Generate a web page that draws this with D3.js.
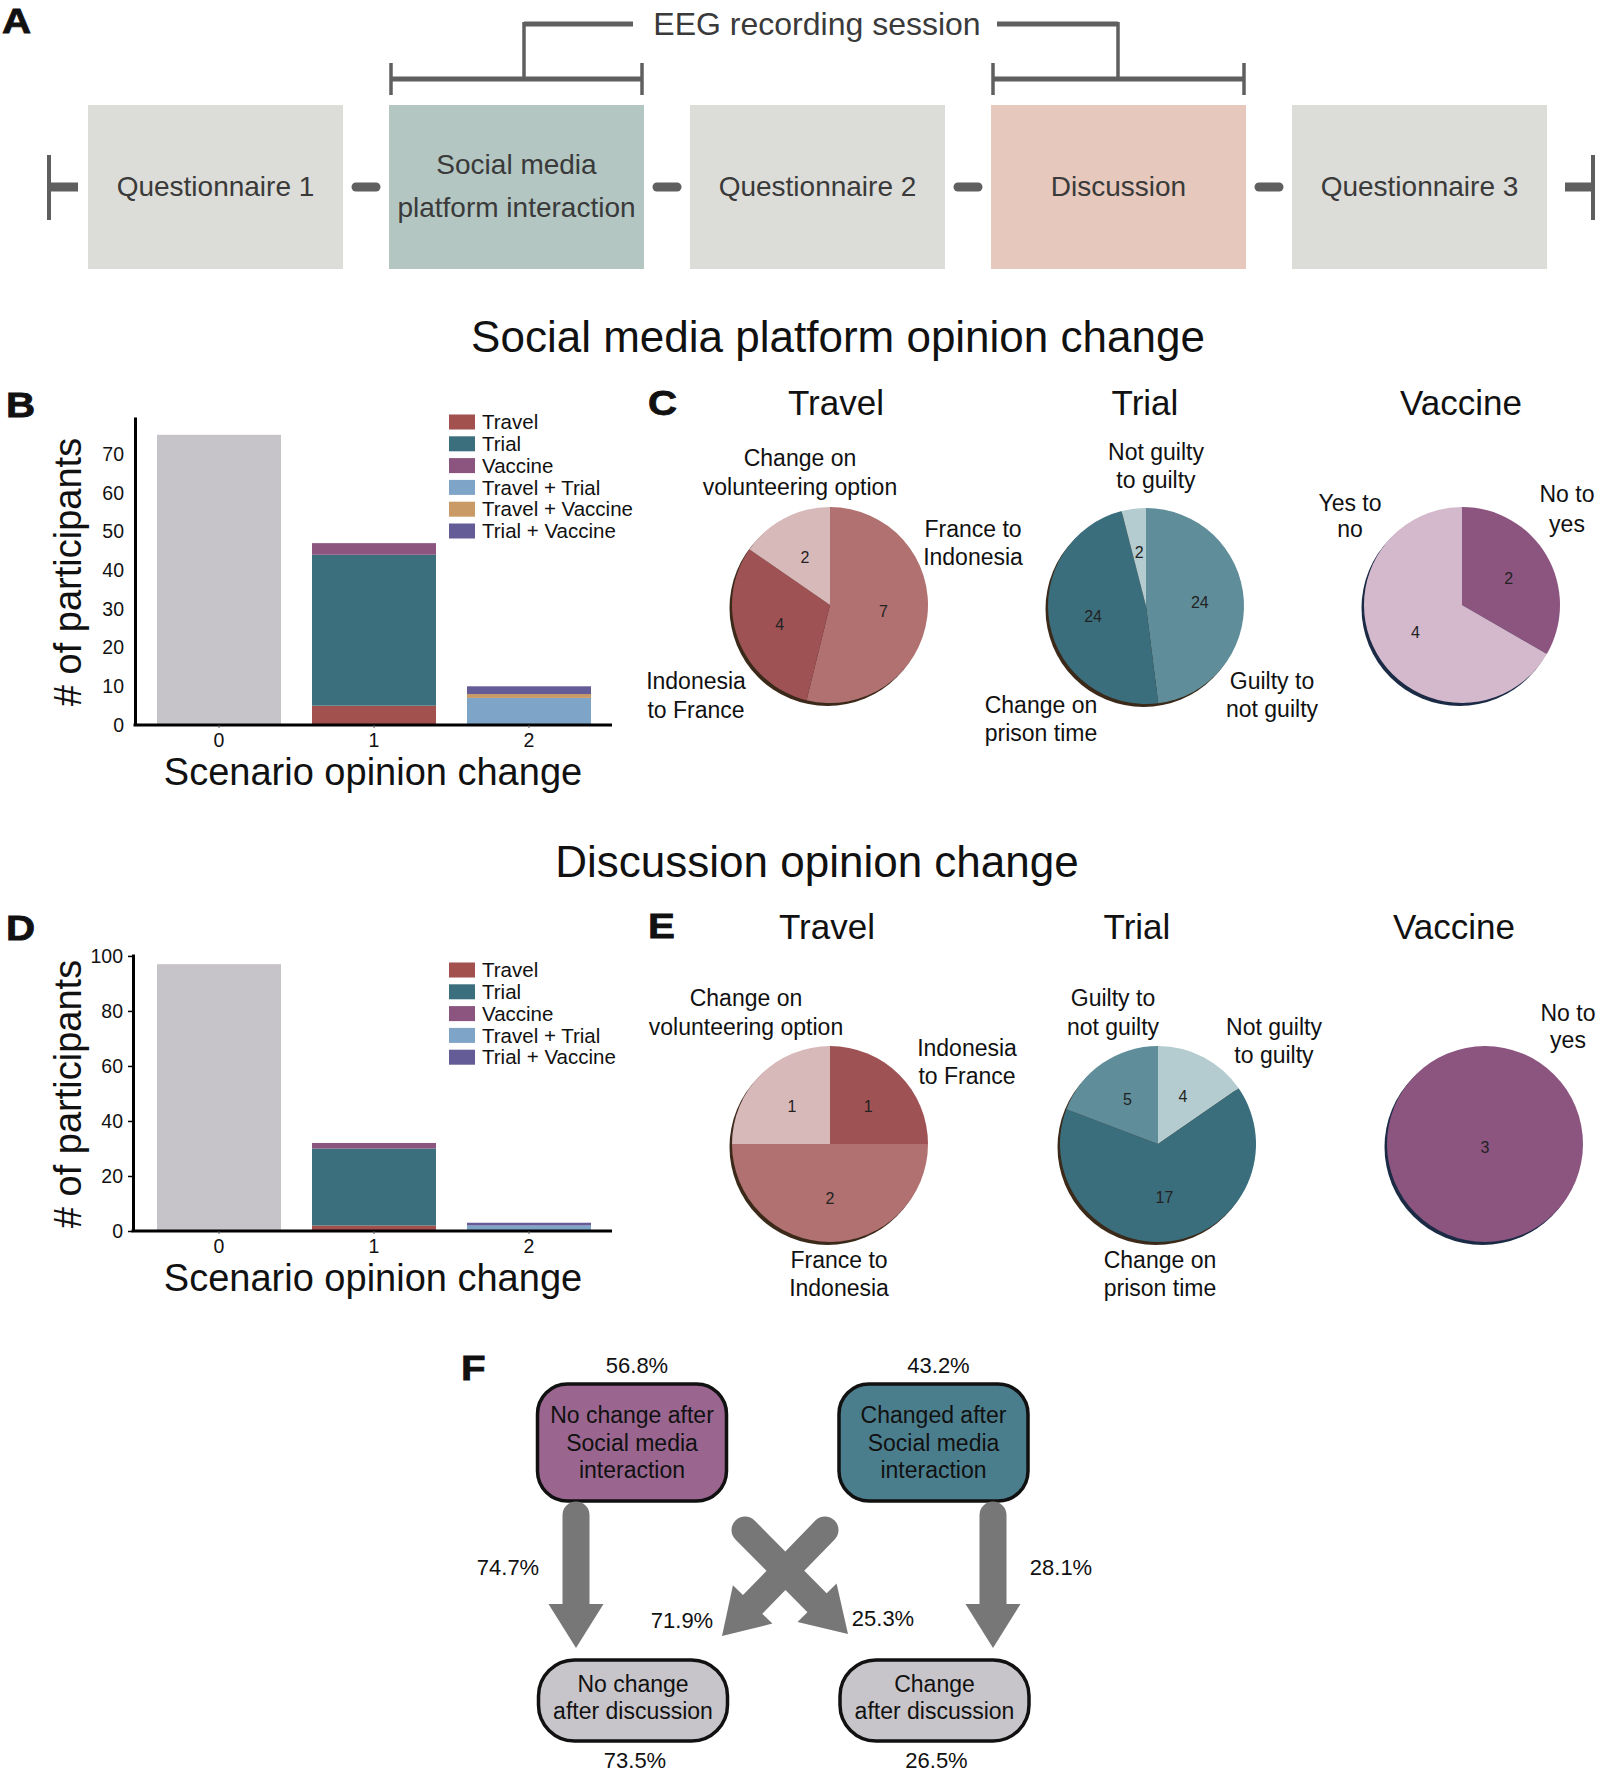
<!DOCTYPE html>
<html><head><meta charset="utf-8">
<script src="https://cdn.jsdelivr.net/npm/d3@7"></script>
<style>body{margin:0;background:#fff}svg{display:block}</style>
</head><body>
<script>
// ---------------- DATA ----------------
const timelineSteps = ["Questionnaire 1", "Social media\nplatform interaction", "Questionnaire 2", "Discussion", "Questionnaire 3"];
const eegLabel = "EEG recording session";
const sectionTitles = ["Social media platform opinion change", "Discussion opinion change"];

const scenarioCategories = ["0", "1", "2"];
const changeTypes = ["Travel", "Trial", "Vaccine", "Travel + Trial", "Travel + Vaccine", "Trial + Vaccine"];

// Panel B (social media) stacked counts per category 0/1/2
const socialNoChange      = [75, 0, 0];
const socialTravel        = [0, 5, 0];
const socialTrial         = [0, 39, 0];
const socialVaccine       = [0, 3, 0];
const socialTravelTrial   = [0, 0, 7];
const socialTravelVaccine = [0, 0, 1];
const socialTrialVaccine  = [0, 0, 2];
const socialTicks = [0, 10, 20, 30, 40, 50, 60, 70];

// Panel D (discussion)
const discNoChange      = [97, 0, 0];
const discTravel        = [0, 2, 0];
const discTrial         = [0, 28, 0];
const discVaccine       = [0, 2, 0];
const discTravelTrial   = [0, 0, 2];
const discTravelVaccine = [0, 0, 0];
const discTrialVaccine  = [0, 0, 1];
const discTicks = [0, 20, 40, 60, 80, 100];

// Panel C pies
const socialTravelLabels  = ["France to\nIndonesia", "Indonesia\nto France", "Change on\nvolunteering option"];
const socialTravelValues  = [7, 4, 2];
const socialTrialLabels   = ["Guilty to\nnot guilty", "Change on\nprison time", "Not guilty\nto guilty"];
const socialTrialValues   = [24, 24, 2];
const socialVaccineLabels = ["No to\nyes", "Yes to\nno"];
const socialVaccineValues = [2, 4];

// Panel E pies
const discTravelLabels  = ["Indonesia\nto France", "France to\nIndonesia", "Change on\nvolunteering option"];
const discTravelValues  = [1, 2, 1];
const discTrialLabels   = ["Not guilty\nto guilty", "Change on\nprison time", "Guilty to\nnot guilty"];
const discTrialValues   = [4, 17, 5];
const discVaccineLabels = ["No to\nyes"];
const discVaccineValues = [3];

const pieTitles = ["Travel", "Trial", "Vaccine"];

// Panel F flow
const socialStateLabels = ["No change after\nSocial media\ninteraction", "Changed after\nSocial media\ninteraction"];
const socialStatePct = [56.8, 43.2];
const discStateLabels = ["No change\nafter discussion", "Change\nafter discussion"];
const discStatePct = [73.5, 26.5];
// transitions: from state, to state, percentage
const transFrom = [0, 0, 1, 1];
const transTo   = [0, 1, 0, 1];
const transPct  = [74.7, 25.3, 71.9, 28.1];

// ---------------- STYLE ----------------
const FONT = '"Liberation Sans", Arial, Helvetica, sans-serif';
const barColors = {
  "No change": "#c6c4c9", "Travel": "#a2514f", "Trial": "#3b6f7d", "Vaccine": "#8c5580",
  "Travel + Trial": "#7ea4c8", "Travel + Vaccine": "#c99a66", "Trial + Vaccine": "#645c96"
};
const sliceColors = {
  "France to\nIndonesia": "#b07170", "Indonesia\nto France": "#9e5254", "Change on\nvolunteering option": "#d8b9ba",
  "Guilty to\nnot guilty": "#5f8e9a", "Change on\nprison time": "#3a6e7c", "Not guilty\nto guilty": "#b4cbd0",
  "No to\nyes": "#8c5580", "Yes to\nno": "#d4b9cd"
};

const svg = d3.select("body").append("svg").attr("width", 1600).attr("height", 1773)
  .style("font-family", FONT);

function multiline(g, text, x, y, lineH, size, opts = {}) {
  const lines = text.split("\n");
  const t = g.append("text").attr("x", x).attr("y", y - (lines.length - 1) * lineH / 2)
    .attr("text-anchor", opts.anchor || "middle").attr("font-size", size)
    .attr("fill", opts.fill || "#111");
  lines.forEach((l, i) => t.append("tspan").attr("x", x).attr("dy", i === 0 ? "0.35em" : lineH).text(l));
  return t;
}
function panelLetter(txt, x, y) {
  svg.append("text").attr("transform", `translate(${x},${y}) scale(1.12,1)`).attr("font-size", 36).attr("font-weight", "bold")
    .attr("fill", "#111").attr("stroke", "#111").attr("stroke-width", 0.8).text(txt);
}

// ---------------- PANEL A ----------------
panelLetter("A", 2, 33);
const boxFill = ["#dcdcd8", "#b3c6c2", "#dcdcd8", "#e6c8bc", "#dcdcd8"];
const bx = d3.scaleBand().domain(d3.range(timelineSteps.length)).range([88, 88 + 301 * 4 + 255]).paddingInner(1 - 255 / 301).paddingOuter(0);
const gA = svg.append("g");
const lineCol = "#5f5f5f";
gA.selectAll("rect.step").data(timelineSteps).join("rect")
  .attr("x", (d, i) => bx(i)).attr("y", 105).attr("width", bx.bandwidth()).attr("height", 164)
  .attr("fill", (d, i) => boxFill[i]);
timelineSteps.forEach((s, i) => {
  multiline(gA, s, bx(i) + bx.bandwidth() / 2, 186, 43, 28, { fill: "#3a3a3a" });
});
// connectors
for (let i = 0; i < timelineSteps.length - 1; i++) {
  const cx = (bx(i) + bx.bandwidth() + bx(i + 1)) / 2;
  gA.append("line").attr("x1", cx - 10).attr("x2", cx + 10).attr("y1", 187).attr("y2", 187)
    .attr("stroke", lineCol).attr("stroke-width", 9).attr("stroke-linecap", "round");
}
gA.append("line").attr("x1", 49).attr("x2", 78).attr("y1", 187).attr("y2", 187).attr("stroke", lineCol).attr("stroke-width", 9);
gA.append("line").attr("x1", 49).attr("x2", 49).attr("y1", 155).attr("y2", 220).attr("stroke", lineCol).attr("stroke-width", 4);
const rEnd = bx(4) + bx.bandwidth();
gA.append("line").attr("x1", rEnd + 18).attr("x2", 1593).attr("y1", 187).attr("y2", 187).attr("stroke", lineCol).attr("stroke-width", 9);
gA.append("line").attr("x1", 1593).attr("x2", 1593).attr("y1", 155).attr("y2", 220).attr("stroke", lineCol).attr("stroke-width", 4);
// brackets
[[1, 524, 633], [3, 1118, 997]].forEach(([i, rx, tx]) => {
  const x0 = bx(i) + 2, x1 = bx(i) + bx.bandwidth() - 2;
  gA.append("line").attr("x1", x0).attr("x2", x1).attr("y1", 79).attr("y2", 79).attr("stroke", lineCol).attr("stroke-width", 5);
  [x0, x1].forEach(x => gA.append("line").attr("x1", x).attr("x2", x).attr("y1", 63).attr("y2", 95).attr("stroke", lineCol).attr("stroke-width", 3.5));
  gA.append("line").attr("x1", rx).attr("x2", rx).attr("y1", 79).attr("y2", 22).attr("stroke", lineCol).attr("stroke-width", 3.5);
  gA.append("line").attr("x1", rx).attr("x2", tx).attr("y1", 24).attr("y2", 24).attr("stroke", lineCol).attr("stroke-width", 5);
});
gA.append("text").attr("x", 817).attr("y", 24).attr("dy", "0.35em").attr("text-anchor", "middle")
  .attr("font-size", 32).attr("fill", "#3a3a3a").text(eegLabel);

// ---------------- SECTION TITLES ----------------
svg.append("text").attr("x", 838).attr("y", 352).attr("text-anchor", "middle").attr("font-size", 44).attr("fill", "#111").text(sectionTitles[0]);
svg.append("text").attr("x", 817).attr("y", 877).attr("text-anchor", "middle").attr("font-size", 44).attr("fill", "#111").text(sectionTitles[1]);

// ---------------- BAR CHARTS ----------------
function barChart(cfg) {
  const keys = ["No change", ...changeTypes];
  const rows = scenarioCategories.map((c, i) => {
    const r = { cat: c };
    keys.forEach((k, j) => r[k] = cfg.series[j][i]);
    return r;
  });
  const stack = d3.stack().keys(keys)(rows);
  const x = d3.scaleBand().domain(scenarioCategories).range([141.5, 606.5]).paddingInner(0.2).paddingOuter(0.1);
  const y = d3.scaleLinear().domain([0, cfg.yMax]).range([cfg.y0, cfg.yTop]);
  const g = svg.append("g");
  g.selectAll("g.layer").data(stack).join("g").attr("fill", d => barColors[d.key])
    .selectAll("rect").data(d => d).join("rect")
    .attr("x", d => x(d.data.cat)).attr("width", x.bandwidth())
    .attr("y", d => y(d[1])).attr("height", d => Math.max(0, y(d[0]) - y(d[1])));
  const ya = g.append("g").attr("transform", `translate(${cfg.axisX},0)`)
    .call(d3.axisLeft(y).tickValues(cfg.ticks).tickSize(cfg.tickSize).tickSizeOuter(0).tickPadding(cfg.tickSize ? 5 : 11));
  ya.select(".domain").attr("stroke", "#000").attr("stroke-width", 3);
  ya.selectAll(".tick line").attr("stroke", "#000").attr("stroke-width", 1.5);
  ya.selectAll(".tick text").attr("font-size", 19.5).attr("font-family", FONT).attr("fill", "#111");
  const xa = g.append("g").attr("transform", `translate(0,${cfg.y0})`)
    .call(d3.axisBottom(x).tickSize(3).tickSizeOuter(0).tickPadding(5));
  xa.select(".domain").attr("d", `M${cfg.axisX - 1.5},0H612`).attr("stroke", "#000").attr("stroke-width", 3);
  xa.selectAll(".tick line").attr("stroke", "#555").attr("stroke-width", 1);
  xa.selectAll(".tick text").attr("font-size", 19.5).attr("font-family", FONT).attr("fill", "#111");
  g.append("text").attr("x", 373).attr("y", cfg.y0 + 47).attr("dy", "0.35em").attr("text-anchor", "middle")
    .attr("font-size", 38).attr("fill", "#111").text("Scenario opinion change");
  g.append("text").attr("transform", `translate(68,${cfg.yLabelY}) rotate(-90)`).attr("dy", "0.35em")
    .attr("text-anchor", "middle").attr("font-size", 38).attr("fill", "#111").text("# of participants");
  // legend
  const lg = g.append("g");
  cfg.legendKeys.forEach((k, i) => {
    const cy = cfg.legendY + i * 21.8;
    lg.append("rect").attr("x", 449).attr("y", cy - 7.5).attr("width", 26).attr("height", 15).attr("fill", barColors[k]);
    lg.append("text").attr("x", 482).attr("y", cy).attr("dy", "0.35em").attr("font-size", 20.5).attr("fill", "#111").text(k);
  });
}
panelLetter("B", 6, 417);
barChart({
  series: [socialNoChange, socialTravel, socialTrial, socialVaccine, socialTravelTrial, socialTravelVaccine, socialTrialVaccine],
  yMax: 79.6, y0: 725, yTop: 417, axisX: 135, ticks: socialTicks, tickSize: 0,
  yLabelY: 572, legendKeys: changeTypes, legendY: 422
});
panelLetter("D", 6, 940);
barChart({
  series: [discNoChange, discTravel, discTrial, discVaccine, discTravelTrial, discTravelVaccine, discTrialVaccine],
  yMax: 100.7, y0: 1231, yTop: 954, axisX: 133, ticks: discTicks, tickSize: 5,
  yLabelY: 1094, legendKeys: ["Travel", "Trial", "Vaccine", "Travel + Trial", "Trial + Vaccine"], legendY: 970
});

// ---------------- PIES ----------------
const R = 98;
const pie = d3.pie().sort(null).value(d => d.v);
const arc = d3.arc().innerRadius(0).outerRadius(R);
function drawPie(cfg) {
  const g = svg.append("g").attr("transform", `translate(${cfg.cx},${cfg.cy})`);
  g.append("circle").attr("cx", -2.5).attr("cy", 3).attr("r", R).attr("fill", cfg.shadow);
  const data = cfg.values.map((v, i) => ({ v, label: cfg.labels[i] }));
  const arcs = pie(data);
  g.selectAll("path").data(arcs).join("path").attr("d", arc).attr("fill", d => sliceColors[d.data.label]);
  const numArc = d3.arc().innerRadius(R * 1.1).outerRadius(0);
  arcs.forEach(a => {
    let [px, py] = numArc.centroid(a);
    if (a.endAngle - a.startAngle > 6.28) { px = 0; py = 3; }
    g.append("text").attr("x", px).attr("y", py).attr("dy", "0.35em").attr("text-anchor", "middle")
      .attr("font-size", 16).attr("fill", "#222").text(a.data.v);
  });
  cfg.labels.forEach((l, i) => {
    const p = cfg.labelPos[i];
    multiline(svg, l, p[0], p[1], p[2], 23);
  });
  svg.append("text").attr("x", cfg.titleX).attr("y", cfg.titleY).attr("dy", "0.35em").attr("text-anchor", "middle")
    .attr("font-size", 35).attr("fill", "#111").text(cfg.title);
}
panelLetter("C", 648, 415);
drawPie({ cx: 830, cy: 605, values: socialTravelValues, labels: socialTravelLabels, shadow: "#3b2a1a",
  labelPos: [[973, 543, 28], [696, 695.5, 29], [800, 472.5, 29]], title: pieTitles[0], titleX: 836, titleY: 403 });
drawPie({ cx: 1146, cy: 606, values: socialTrialValues, labels: socialTrialLabels, shadow: "#3b2a1a",
  labelPos: [[1272, 695, 28], [1041, 719, 28], [1156, 466, 28]], title: pieTitles[1], titleX: 1145, titleY: 403 });
drawPie({ cx: 1462, cy: 605, values: socialVaccineValues, labels: socialVaccineLabels, shadow: "#1c2b45",
  labelPos: [[1567, 509, 30], [1350, 516, 26]], title: pieTitles[2], titleX: 1461, titleY: 403 });

panelLetter("E", 648, 938);
drawPie({ cx: 830, cy: 1144, values: discTravelValues, labels: discTravelLabels, shadow: "#3b2a1a",
  labelPos: [[967, 1062, 28], [839, 1274, 28], [746, 1012.5, 29]], title: pieTitles[0], titleX: 827, titleY: 927 });
drawPie({ cx: 1158, cy: 1144, values: discTrialValues, labels: discTrialLabels, shadow: "#3b2a1a",
  labelPos: [[1274, 1041, 28], [1160, 1274, 28], [1113, 1012.5, 29]], title: pieTitles[1], titleX: 1137, titleY: 927 });
drawPie({ cx: 1485, cy: 1144, values: discVaccineValues, labels: discVaccineLabels, shadow: "#1c2b45",
  labelPos: [[1568, 1026.5, 27]], title: pieTitles[2], titleX: 1454, titleY: 927 });

// ---------------- PANEL F ----------------
panelLetter("F", 461, 1380);
const colX = d3.scalePoint().domain([0, 1]).range([632, 933.5]);
const topFill = ["#9a6690", "#4b7e8d"];
const gF = svg.append("g");
socialStateLabels.forEach((l, i) => {
  const cx = colX(i);
  gF.append("rect").attr("x", cx - 94.5).attr("y", 1384).attr("width", 189).attr("height", 117)
    .attr("rx", 30).attr("fill", topFill[i]).attr("stroke", "#111").attr("stroke-width", 3.5);
  multiline(gF, l, cx, 1442.5, 27.5, 23);
  gF.append("text").attr("x", cx + 5).attr("y", 1365).attr("dy", "0.35em").attr("text-anchor", "middle")
    .attr("font-size", 22).attr("fill", "#111").text(socialStatePct[i].toFixed(1) + "%");
});
discStateLabels.forEach((l, i) => {
  const cx = colX(i) + 1;
  gF.append("rect").attr("x", cx - 94.5).attr("y", 1660).attr("width", 189).attr("height", 81)
    .attr("rx", 36).attr("fill", "#c8c5ca").attr("stroke", "#111").attr("stroke-width", 3.5);
  multiline(gF, l, cx, 1697.5, 27.5, 23);
  gF.append("text").attr("x", cx + 2).attr("y", 1760).attr("dy", "0.35em").attr("text-anchor", "middle")
    .attr("font-size", 22).attr("fill", "#111").text(discStatePct[i].toFixed(1) + "%");
});
// arrows
const arrowStart = { "0-0": [576, 1515], "1-1": [993, 1515], "0-1": [745, 1530], "1-0": [825, 1530] };
const arrowTip   = { "0-0": [576, 1648], "1-1": [993, 1648], "0-1": [848, 1634], "1-0": [722, 1636] };
const pctPos     = { "0-0": [508, 1567], "1-1": [1061, 1567], "0-1": [883, 1618], "1-0": [682, 1620] };
transPct.forEach((p, i) => {
  const key = transFrom[i] + "-" + transTo[i];
  const [sx, sy] = arrowStart[key], [tx, ty] = arrowTip[key];
  const L = Math.hypot(tx - sx, ty - sy), ux = (tx - sx) / L, uy = (ty - sy) / L;
  const head = 44, hw = 27.5;
  const bxp = tx - ux * head, byp = ty - uy * head;
  gF.append("line").attr("x1", sx).attr("y1", sy).attr("x2", bxp).attr("y2", byp)
    .attr("stroke", "#777").attr("stroke-width", 27).attr("stroke-linecap", "round");
  gF.append("path").attr("d", `M${bxp - uy * hw},${byp + ux * hw}L${tx},${ty}L${bxp + uy * hw},${byp - ux * hw}Z`).attr("fill", "#777");
  const pp = pctPos[key];
  gF.append("text").attr("x", pp[0]).attr("y", pp[1]).attr("dy", "0.35em").attr("text-anchor", "middle")
    .attr("font-size", 22).attr("fill", "#111").text(p.toFixed(1) + "%");
});
</script>
</body></html>
